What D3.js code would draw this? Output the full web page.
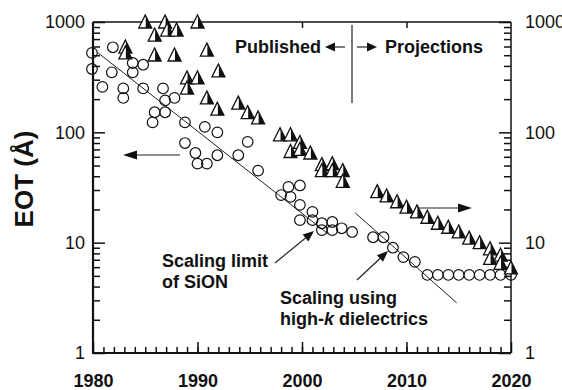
<!DOCTYPE html>
<html>
<head>
<meta charset="utf-8">
<script src="https://cdn.jsdelivr.net/npm/d3@7"></script>
<style>
  body { margin: 0; background: #fff; }
  svg { display: block; font-family: "Liberation Sans", Arial, sans-serif; }
</style>
</head>
<body>
<div id="chart"></div>
<script>
// EOT scaling chart: published gate dielectrics vs projections

// SiO2 / SiON film thickness (open circles), [year, EOT in Angstrom]
const sionData = [
  [1979.9, 525], [1979.9, 375], [1980.9, 258], [1981.9, 590], [1981.8, 350],
  [1982.9, 250], [1982.9, 205], [1983.8, 425], [1983.8, 350], [1984.8, 410],
  [1984.8, 250], [1985.9, 152], [1985.7, 123], [1986.7, 250], [1986.9, 195],
  [1986.9, 152], [1987.8, 205], [1988.8, 123], [1988.8, 80], [1989.8, 65],
  [1990.0, 52], [1990.7, 112], [1990.9, 52], [1991.9, 100], [1991.9, 62],
  [1993.9, 62], [1994.8, 82], [1995.8, 45], [1998.0, 27], [1998.7, 32],
  [1998.9, 26], [1999.8, 33], [1999.8, 22], [1999.8, 16], [2001.0, 19],
  [2001.0, 16], [2001.9, 15], [2001.9, 13], [2002.9, 15.4], [2002.9, 13],
  [2003.8, 13.5], [2004.8, 12.5], [2006.8, 11.2], [2007.8, 11.2], [2008.7, 9],
  [2009.7, 7.4], [2010.8, 6.7]
];

// high-k plateau (open circles)
const highkData = [
  [2012, 5.1], [2013, 5.1], [2014, 5.1], [2015, 5.1], [2016, 5.1],
  [2017, 5.1], [2018, 5.1], [2019, 5.1], [2020, 5.1]
];

// published devices (half-filled triangles)
const publishedData = [
  [1985.0, 1000], [1986.9, 1000], [1990.0, 1000], [1985.9, 760], [1987.1, 845],
  [1988.0, 845], [1983.1, 593], [1983.1, 524], [1985.9, 502], [1987.8, 502],
  [1990.9, 557], [1992.0, 360], [1989.0, 311], [1990.0, 311], [1989.0, 252],
  [1990.9, 205], [1991.9, 162], [1993.9, 184], [1994.8, 151], [1995.8, 135],
  [1997.9, 95], [1998.9, 95], [1999.8, 81], [1998.9, 67], [1999.8, 70],
  [2000.8, 65], [2001.9, 51], [2002.9, 52], [2001.9, 45], [2002.9, 45],
  [2003.9, 45], [2003.9, 36]
];

// roadmap projections (half-filled triangles)
const projectionData = [
  [2007.2, 29], [2008.1, 26.5], [2009.1, 23.5], [2010.0, 21], [2011.0, 19],
  [2012.0, 17], [2013.0, 15], [2014.0, 13.8], [2015.0, 12.5], [2016.0, 11],
  [2017.0, 10], [2018.0, 8.8], [2018.0, 7.2], [2019.0, 7.7], [2019.0, 6.5],
  [2020.0, 5.9]
];

// fitted trend lines
const sionTrend = [[1980.5, 524], [2002.5, 12]];
const highkTrend = [[2005.1, 18.6], [2014.8, 2.85]];

// axis ticks
const yMajor = [1, 10, 100, 1000];
const yMinor = [2, 3, 4, 5, 6, 7, 8, 9, 20, 30, 40, 50, 60, 70, 80, 90, 200, 300, 400, 500, 600, 700, 800, 900];
const xMajor = [1980, 1990, 2000, 2010, 2020];
const xMinor = d3.range(1981, 2020);
const xTop = [1990, 2000, 2010];

const width = 562;
const height = 390;
const plotL = 93, plotR = 511, plotT = 22, plotB = 353;

const svg = d3.select("#chart")
  .append("svg")
  .attr("width", width)
  .attr("height", height);

const x = d3.scaleLinear().domain([1980, 2020]).range([plotL, plotR]);
const y = d3.scaleLog().domain([1, 1000]).range([plotB, plotT]);

const font = "'Liberation Sans', Arial, sans-serif";

function styleAxis(g, bold) {
  g.select(".domain").remove();
  g.selectAll(".tick line").attr("stroke", "#111").attr("stroke-width", 1.5);
  g.selectAll(".tick text")
    .attr("fill", "#111")
    .attr("font-family", font)
    .attr("font-size", 18)
    .attr("font-weight", bold ? "bold" : "normal");
}

// left axis
svg.append("g").attr("transform", `translate(${plotL},0)`)
  .call(d3.axisLeft(y).tickValues(yMajor).tickSize(-12).tickPadding(8).tickFormat(d3.format("d")))
  .call(g => styleAxis(g, false));
svg.append("g").attr("transform", `translate(${plotL},0)`)
  .call(d3.axisLeft(y).tickValues(yMinor).tickSize(-7).tickFormat(""))
  .call(g => styleAxis(g, false));

// right axis
svg.append("g").attr("transform", `translate(${plotR},0)`)
  .call(d3.axisRight(y).tickValues(yMajor).tickSize(-12).tickPadding(14).tickFormat(d3.format("d")))
  .call(g => styleAxis(g, false));
svg.append("g").attr("transform", `translate(${plotR},0)`)
  .call(d3.axisRight(y).tickValues(yMinor).tickSize(-7).tickFormat(""))
  .call(g => styleAxis(g, false));

// bottom axis
svg.append("g").attr("transform", `translate(0,${plotB})`)
  .call(d3.axisBottom(x).tickValues(xMajor).tickSize(-11).tickPadding(21).tickFormat(d3.format("d")))
  .call(g => styleAxis(g, true));
svg.append("g").attr("transform", `translate(0,${plotB})`)
  .call(d3.axisBottom(x).tickValues(xMinor).tickSize(-6).tickFormat(""))
  .call(g => styleAxis(g, false));

// top axis
svg.append("g").attr("transform", `translate(0,${plotT})`)
  .call(d3.axisTop(x).tickValues(xTop).tickSize(-6).tickFormat(""))
  .call(g => styleAxis(g, false));

// frame
const frame = svg.append("g").attr("stroke", "#111").attr("fill", "none");
frame.append("line").attr("x1", plotL).attr("x2", plotL).attr("y1", plotT).attr("y2", plotB + 1).attr("stroke-width", 2.2);
frame.append("line").attr("x1", plotL - 1).attr("x2", plotR).attr("y1", plotB).attr("y2", plotB).attr("stroke-width", 2.2);
frame.append("line").attr("x1", plotL).attr("x2", plotR).attr("y1", plotT).attr("y2", plotT).attr("stroke-width", 1.5);
frame.append("line").attr("x1", plotR).attr("x2", plotR).attr("y1", plotT).attr("y2", plotB).attr("stroke-width", 1.5);

// y axis title
svg.append("text")
  .attr("transform", "translate(33,179) rotate(-90)")
  .attr("text-anchor", "middle")
  .attr("font-family", font)
  .attr("font-size", 26)
  .attr("font-weight", "bold")
  .attr("fill", "#111")
  .text("EOT (Å)");

// trend lines
const line = d3.line().x(d => x(d[0])).y(d => y(d[1]));
svg.selectAll(".trend")
  .data([sionTrend, highkTrend])
  .enter().append("path")
  .attr("class", "trend")
  .attr("d", line)
  .attr("fill", "none")
  .attr("stroke", "#222")
  .attr("stroke-width", 1);

// open circles
svg.selectAll(".circ")
  .data(sionData.concat(highkData))
  .enter().append("circle")
  .attr("class", "circ")
  .attr("cx", d => x(d[0]))
  .attr("cy", d => y(d[1]))
  .attr("r", 5.3)
  .attr("fill", "none")
  .attr("stroke", "#111")
  .attr("stroke-width", 1.2);

// half-filled triangles
const tri = svg.selectAll(".tri")
  .data(publishedData.concat(projectionData))
  .enter().append("g")
  .attr("class", "tri")
  .attr("transform", d => `translate(${x(d[0])},${y(d[1])})`);
tri.append("path")
  .attr("d", "M0,-7L6.5,6L-6.5,6Z")
  .attr("fill", "#fff")
  .attr("stroke", "#111")
  .attr("stroke-width", 1.3)
  .attr("stroke-linejoin", "miter");
tri.append("path")
  .attr("d", "M0.5,-6L6.5,6L0.5,6Z")
  .attr("fill", "#111");

// annotations
function arrow(x1, y1, x2, y2, head) {
  const a = Math.atan2(y2 - y1, x2 - x1);
  const hl = head || 11, hw = 4.5;
  const bx = x2 - hl * Math.cos(a), by = y2 - hl * Math.sin(a);
  svg.append("line")
    .attr("x1", x1).attr("y1", y1).attr("x2", bx).attr("y2", by)
    .attr("stroke", "#222").attr("stroke-width", 1.2);
  svg.append("path")
    .attr("d", `M${x2},${y2}L${bx + hw * Math.sin(a)},${by - hw * Math.cos(a)}L${bx - hw * Math.sin(a)},${by + hw * Math.cos(a)}Z`)
    .attr("fill", "#111");
}

function label(tx, ty, str) {
  return svg.append("text")
    .attr("x", tx).attr("y", ty)
    .attr("font-family", font)
    .attr("font-size", 18)
    .attr("font-weight", "bold")
    .attr("fill", "#111")
    .text(str);
}

// published / projections divider
svg.append("line")
  .attr("x1", 352).attr("x2", 352).attr("y1", 25).attr("y2", 103)
  .attr("stroke", "#222").attr("stroke-width", 1.2);
label(235, 53, "Published");
label(385, 53, "Projections");
arrow(345, 47, 325, 47, 10);
arrow(357, 47, 377, 47, 10);

// series pointers
arrow(180, 155, 123, 155, 14);
arrow(418, 208, 472, 208, 14);

label(162, 267, "Scaling limit");
label(162, 288, "of SiON");
arrow(275, 263, 314, 231);

label(280, 304, "Scaling using");
const hk = label(280, 325, "high-");
hk.append("tspan").attr("font-style", "italic").text("k");
hk.append("tspan").text(" dielectrics");
arrow(357, 280, 388, 251);
</script>
</body>
</html>
